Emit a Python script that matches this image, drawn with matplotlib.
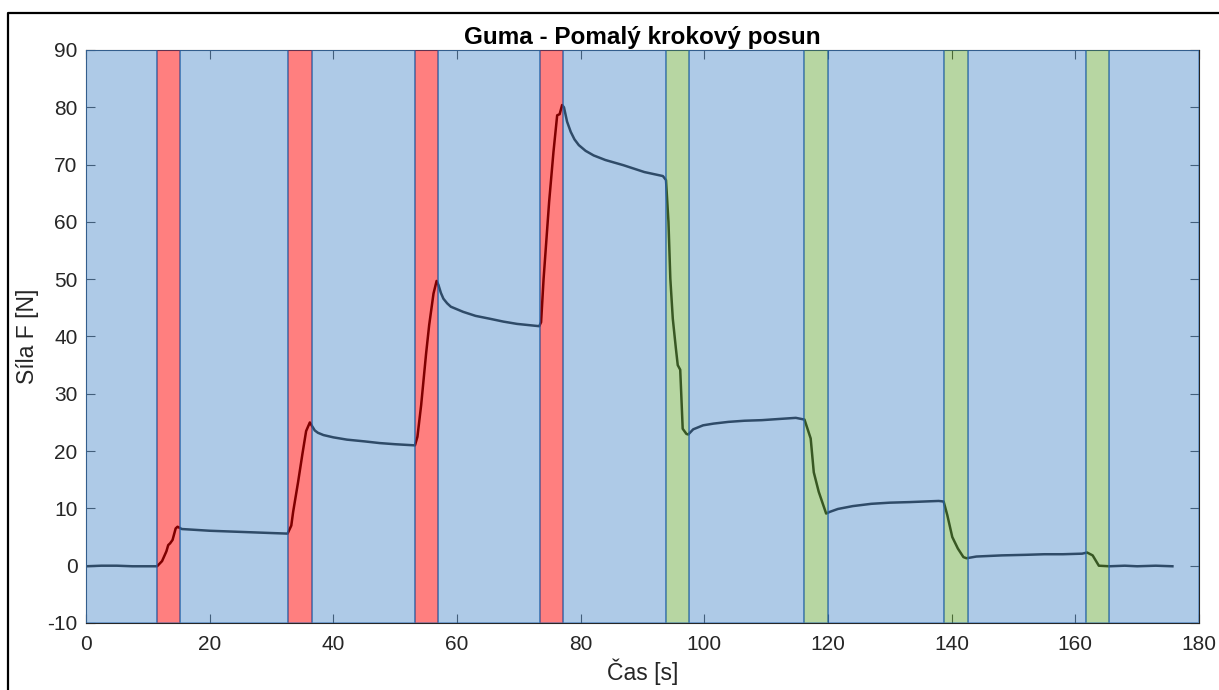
import matplotlib
matplotlib.use("Agg")
import matplotlib.pyplot as plt
from matplotlib.lines import Line2D

# ---- data ----
time_s = [0, 2.5, 5, 7.5, 10, 11.5, 12.3, 13.0, 13.3, 13.6, 14.0, 14.5, 14.8, 15.5, 17, 20, 25, 30, 32.6,
          33.2, 33.5, 34.3, 35.0, 35.6, 36.2, 36.6, 37.0, 37.5, 38.4, 40, 42.2, 45, 47.5, 50, 53.2,
          53.6, 54.2, 55.0, 55.5, 56.2, 56.7, 57.0, 57.4, 57.8, 58.4, 59, 61.0, 63, 65.3, 67.5, 69.7, 73.3, 73.6,
          74.0, 74.9, 75.6, 76.2, 76.6, 77.0, 77.3, 77.8, 78.4, 79.0, 79.7, 80.8, 82.1, 84, 86.9, 90.3, 93.3, 93.8,
          94.2, 94.5, 94.9, 95.4, 95.7, 96.1, 96.3, 96.5, 97.1, 97.4, 98.2, 99.8, 101.5, 103.9, 106.5, 109.3, 112, 114.8, 116.2,
          117.2, 117.7, 118.5, 119.7, 120.3, 121.6, 124, 127.0, 130, 133.2, 135.5, 137.9, 138.7,
          139.3, 140.1, 141.0, 141.9, 142.4, 144, 148.1, 152, 155, 158, 161.1, 161.9, 162.8, 163.8, 165.5, 168, 170, 173, 175.7]
force_N = [-0.1, 0.0, 0.0, -0.1, -0.1, -0.1, 0.8, 2.5, 3.6, 3.9, 4.5, 6.5, 6.8, 6.4, 6.3, 6.1, 5.9, 5.7, 5.6,
           7.0, 9.4, 14.6, 19.5, 23.5, 25.0, 24.3, 23.6, 23.2, 22.8, 22.4, 22.0, 21.7, 21.4, 21.2, 21.0,
           22.5, 28, 37, 42, 47.5, 49.7, 49.0, 47.6, 46.6, 45.8, 45.2, 44.3, 43.6, 43.1, 42.6, 42.2, 41.8, 42.5,
           50, 63.5, 72.2, 78.6, 78.8, 80.4, 80.0, 77.5, 75.7, 74.4, 73.4, 72.4, 71.6, 70.8, 69.9, 68.7, 68.0, 67.3,
           60, 50.1, 43.1, 37.9, 35, 34.2, 29.1, 23.9, 23.0, 22.9, 23.8, 24.5, 24.8, 25.1, 25.3, 25.4, 25.6, 25.8, 25.5,
           22.2, 16.3, 12.9, 9.1, 9.4, 9.9, 10.4, 10.8, 11.0, 11.1, 11.2, 11.3, 11.2,
           8.8, 5.0, 3.0, 1.5, 1.3, 1.6, 1.8, 1.9, 2.0, 2.0, 2.1, 2.3, 1.8, 0.0, -0.1, 0.0, -0.1, 0.0, -0.1]

rest_spans = [(0, 11.5), (15.2, 32.7), (36.5, 53.2), (57.0, 73.5), (77.2, 93.8),
              (97.5, 116.1), (120.0, 138.7), (142.6, 161.7), (165.5, 180)]
load_spans = [(11.5, 15.2), (32.7, 36.5), (53.2, 57.0), (73.5, 77.2)]
unload_spans = [(93.8, 97.5), (116.1, 120.0), (138.7, 142.6), (161.7, 165.5)]

x_ticks = [0, 20, 40, 60, 80, 100, 120, 140, 160, 180]
y_ticks = [-10, 0, 10, 20, 30, 40, 50, 60, 70, 80, 90]

title = "Guma - Pomalý krokový posun"
xlabel = "Čas [s]"
ylabel = "Síla F [N]"

# ---- plot ----
plt.rcParams['font.family'] = ['Liberation Sans', 'DejaVu Sans']
plt.rcParams['axes.unicode_minus'] = False
fig = plt.figure(figsize=(12.19, 6.90), dpi=100)
ax = fig.add_axes([86 / 1219, 1 - 623 / 690, (1199 - 86) / 1219, (623 - 50) / 690])

ax.plot(time_s, force_N, color='black', lw=1.8, zorder=2)

for a, b in rest_spans:
    ax.axvspan(a, b, facecolor='#5f97d1', edgecolor='#1f5fa8', lw=1.2, alpha=0.5, zorder=3)
for a, b in load_spans:
    ax.axvspan(a, b, facecolor='#ff0000', edgecolor='#1f5fa8', lw=1.2, alpha=0.5, zorder=3)
for a, b in unload_spans:
    ax.axvspan(a, b, facecolor='#71af47', edgecolor='#1f5fa8', lw=1.2, alpha=0.5, zorder=3)

ax.set_xlim(0, 180)
ax.set_ylim(-10, 90)
ax.set_xticks(x_ticks)
ax.set_yticks(y_ticks)
ax.tick_params(direction='in', length=6.5, width=0.8, colors='#262626', labelsize=15,
               top=True, right=True)
ax.tick_params(axis='x', pad=9)
ax.tick_params(axis='y', pad=6)
for s in ax.spines.values():
    s.set_color('#262626')
    s.set_linewidth(0.8)

ax.set_title(title, fontsize=17.5, fontweight='bold', pad=4)
ax.set_xlabel(xlabel, fontsize=16.5, color='#262626', labelpad=3)
ax.set_ylabel(ylabel, fontsize=16.5, color='#262626', labelpad=6)

# screenshot frame
fx = 8 / 1219
fy = 1 - 13 / 690
fig.add_artist(Line2D([fx, fx, 1.0], [0.0, fy, fy], transform=fig.transFigure,
                      color='black', lw=1.6))

fig.savefig('out.png', dpi=100)
